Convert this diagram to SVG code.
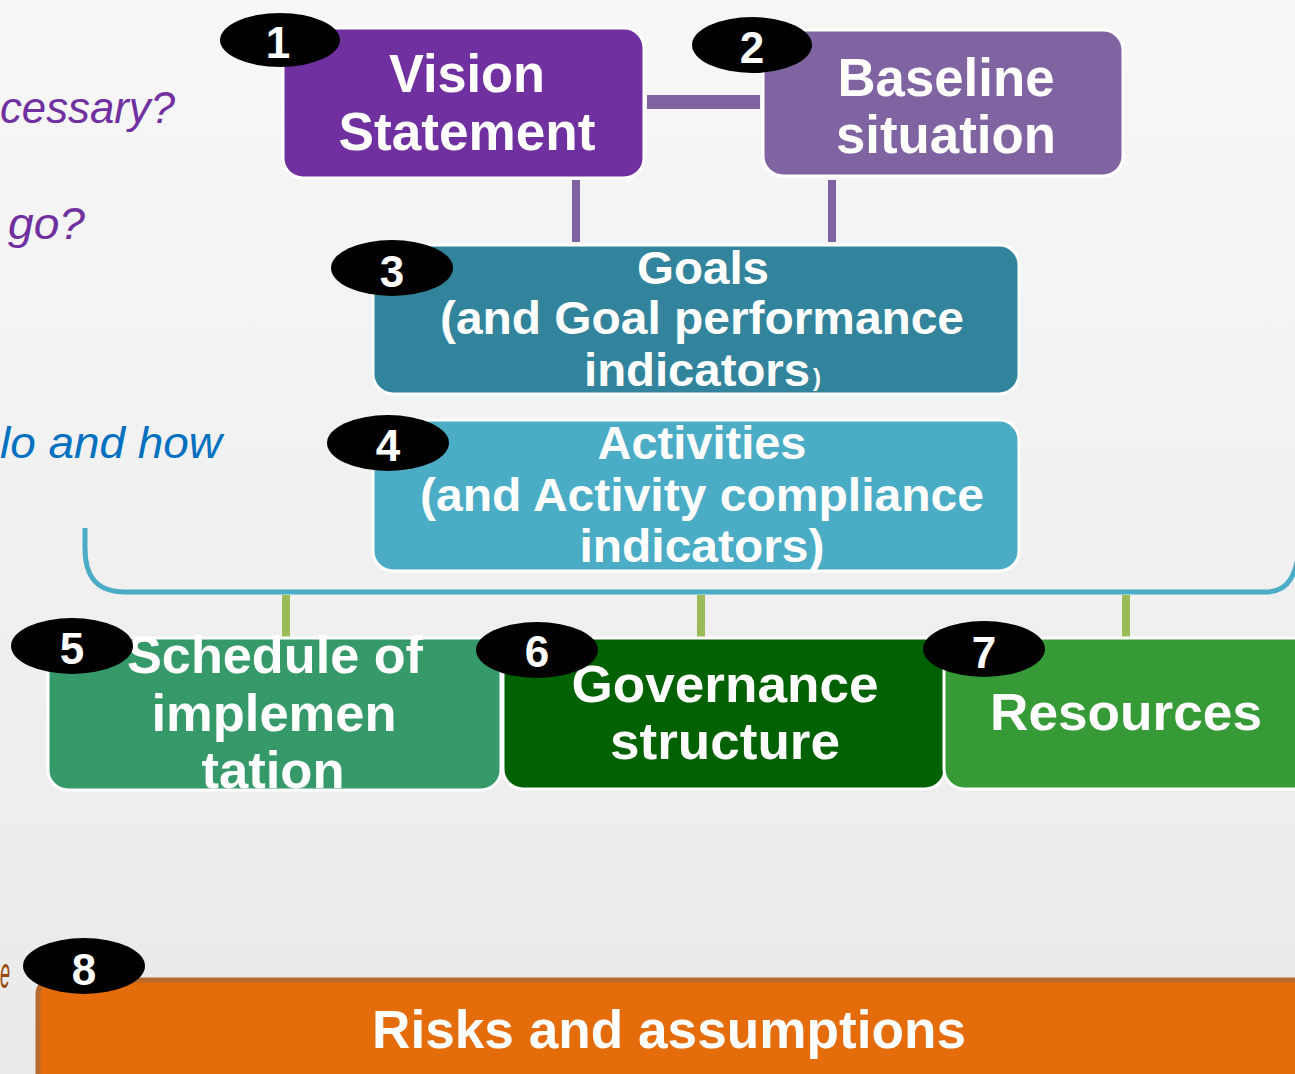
<svg xmlns="http://www.w3.org/2000/svg" width="1295" height="1074" viewBox="0 0 1295 1074">
<defs>
<linearGradient id="bg" x1="0" y1="0" x2="0" y2="1">
<stop offset="0" stop-color="#F7F7F7"/>
<stop offset="1" stop-color="#EAEAEA"/>
</linearGradient>
<style>
.box{stroke:#FFFFFF;stroke-width:3}
.t{font-family:"Liberation Sans Narrow","Liberation Sans",Arial,sans-serif;font-weight:bold;fill:#FFFFFF;text-anchor:middle}
.badge{fill:#000000}
.num{font-family:"Liberation Sans Narrow","Liberation Sans",Arial,sans-serif;font-weight:bold;fill:#FFFFFF;text-anchor:middle;font-size:44px}
.side{font-family:"Liberation Sans",Arial,sans-serif;font-style:italic;font-size:44px}
</style>
</defs>
<rect width="1295" height="1074" fill="url(#bg)"/>
<g id="side-text">
<text class="side" x="0" y="123" fill="#7030A0" textLength="175" lengthAdjust="spacingAndGlyphs">cessary?</text>
<text class="side" x="8" y="239" fill="#7030A0" textLength="77" lengthAdjust="spacingAndGlyphs">go?</text>
<text class="side" x="0" y="458" fill="#0070C0" textLength="222" lengthAdjust="spacingAndGlyphs">lo and how</text>
<text class="side" x="0" y="988" fill="#984807" textLength="10" lengthAdjust="spacingAndGlyphs">e</text>
</g>
<g id="connectors">
<rect x="647" y="95" width="113" height="14" fill="#8064A2"/>
<line x1="576" y1="180" x2="576" y2="242" stroke="#8064A2" stroke-width="8"/>
<line x1="832" y1="180" x2="832" y2="242" stroke="#8064A2" stroke-width="8"/>
<path d="M85 528 L85 548 C85 575 95 592 125 592 L1265 592 C1285 592 1293 580 1297 562" fill="none" stroke="#4BACC6" stroke-width="5"/>
<line x1="286" y1="595" x2="286" y2="638" stroke="#9BBB59" stroke-width="8"/>
<line x1="701" y1="595" x2="701" y2="638" stroke="#9BBB59" stroke-width="8"/>
<line x1="1126" y1="595" x2="1126" y2="638" stroke="#9BBB59" stroke-width="8"/>
</g>
<g id="node1">
<rect class="box" x="283" y="28" width="361" height="150" rx="20" fill="#7030A0"/>
<text class="t" x="467" y="92" font-size="54" textLength="156" lengthAdjust="spacingAndGlyphs">Vision</text>
<text class="t" x="467" y="150" font-size="54" textLength="257" lengthAdjust="spacingAndGlyphs">Statement</text>
<ellipse class="badge" cx="280" cy="40" rx="60" ry="27"/>
<text class="num" x="278" y="58">1</text>
</g>
<g id="node2">
<rect class="box" x="763" y="30" width="360" height="146" rx="20" fill="#8064A2"/>
<text class="t" x="946" y="96" font-size="54" textLength="217" lengthAdjust="spacingAndGlyphs">Baseline</text>
<text class="t" x="946" y="153" font-size="54" textLength="220" lengthAdjust="spacingAndGlyphs">situation</text>
<ellipse class="badge" cx="752" cy="45" rx="60" ry="28"/>
<text class="num" x="752" y="63">2</text>
</g>
<g id="node3">
<rect class="box" x="373" y="245" width="646" height="149" rx="20" fill="#31849B"/>
<text class="t" x="703" y="284" font-size="46" textLength="132" lengthAdjust="spacingAndGlyphs">Goals</text>
<text class="t" x="702" y="334" font-size="46" textLength="524" lengthAdjust="spacingAndGlyphs">(and Goal performance</text>
<text class="t" x="697" y="386" font-size="46" textLength="226" lengthAdjust="spacingAndGlyphs">indicators</text>
<text class="t" x="817" y="386" font-size="24">)</text>
<ellipse class="badge" cx="392" cy="268" rx="61" ry="28"/>
<text class="num" x="392" y="287">3</text>
</g>
<g id="node4">
<rect class="box" x="373" y="420" width="646" height="151" rx="20" fill="#4BACC6"/>
<text class="t" x="702" y="459" font-size="46" textLength="209" lengthAdjust="spacingAndGlyphs">Activities</text>
<text class="t" x="702" y="511" font-size="46" textLength="564" lengthAdjust="spacingAndGlyphs">(and Activity compliance</text>
<text class="t" x="702" y="562" font-size="46" textLength="245" lengthAdjust="spacingAndGlyphs">indicators)</text>
<ellipse class="badge" cx="388" cy="443" rx="61" ry="28"/>
<text class="num" x="388" y="461">4</text>
</g>
<g id="node5">
<rect class="box" x="48" y="638" width="453" height="152" rx="20" fill="#36996A"/>
<text class="t" x="275" y="673" font-size="52" textLength="296" lengthAdjust="spacingAndGlyphs">Schedule of</text>
<text class="t" x="274" y="731" font-size="52" textLength="245" lengthAdjust="spacingAndGlyphs">implemen</text>
<text class="t" x="273" y="788" font-size="52" textLength="143" lengthAdjust="spacingAndGlyphs">tation</text>
<ellipse class="badge" cx="72" cy="646" rx="61" ry="28"/>
<text class="num" x="72" y="664">5</text>
</g>
<g id="node6">
<rect class="box" x="503" y="638" width="442" height="151" rx="20" fill="#006100"/>
<text class="t" x="725" y="702" font-size="52" textLength="307" lengthAdjust="spacingAndGlyphs">Governance</text>
<text class="t" x="725" y="759" font-size="52" textLength="230" lengthAdjust="spacingAndGlyphs">structure</text>
<ellipse class="badge" cx="537" cy="650" rx="61" ry="28"/>
<text class="num" x="537" y="667">6</text>
</g>
<g id="node7">
<rect class="box" x="944" y="638" width="380" height="151" rx="20" fill="#369A36"/>
<text class="t" x="1126" y="730" font-size="52" textLength="272" lengthAdjust="spacingAndGlyphs">Resources</text>
<ellipse class="badge" cx="984" cy="649" rx="61" ry="28"/>
<text class="num" x="984" y="668">7</text>
</g>
<g id="node8">
<rect x="38" y="980" width="1290" height="120" rx="14" fill="#E46C0A" stroke="#B96A2D" stroke-width="5"/>
<text class="t" x="669" y="1048" font-size="54" textLength="594" lengthAdjust="spacingAndGlyphs">Risks and assumptions</text>
<ellipse class="badge" cx="84" cy="966" rx="61" ry="28"/>
<text class="num" x="84" y="985">8</text>
</g>
</svg>
